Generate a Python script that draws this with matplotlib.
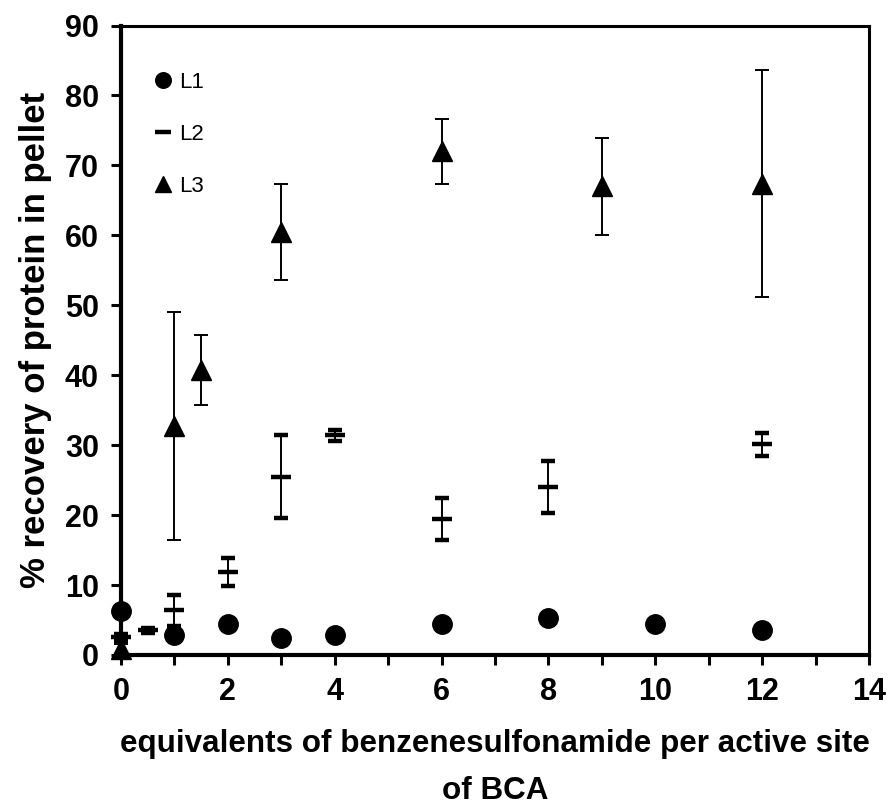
import matplotlib
matplotlib.use("Agg")
import matplotlib.pyplot as plt
from matplotlib.ticker import MultipleLocator

plt.rcParams['font.family'] = ['Liberation Sans', 'DejaVu Sans']

# L1 (circles)
l1_x = [0, 1, 2, 3, 4, 6, 8, 10, 12]
l1_y = [6.3, 2.9, 4.4, 2.4, 2.9, 4.4, 5.25, 4.4, 3.5]

# L2 (dashes with error bars)
l2_x = [0, 0.5, 1, 2, 3, 4, 6, 8, 12]
l2_y = [2.5, 3.5, 6.4, 11.8, 25.5, 31.4, 19.5, 24.0, 30.1]
l2_err = [0.5, 0.4, 2.2, 2.0, 5.9, 0.8, 3.0, 3.7, 1.7]

# L3 (triangles with error bars)
l3_x = [0, 1, 1.5, 3, 6, 9, 12]
l3_y = [0.8, 32.8, 40.8, 60.5, 72.0, 67.0, 67.4]
l3_err = [0.8, 16.3, 5.0, 6.9, 4.6, 6.9, 16.2]

labels = ['L1', 'L2', 'L3']

fig = plt.figure(figsize=(8.92, 8.10), dpi=100)
ax = fig.add_axes([0.1357, 0.1914, 0.8385, 0.7771])

h1, = ax.plot(l1_x, l1_y, linestyle='none', marker='o', ms=14, color='black',
              clip_on=False, zorder=4)
e2 = ax.errorbar(l2_x, l2_y, yerr=l2_err, fmt='_', ms=15, mew=3.2, color='black',
                 ecolor='black', elinewidth=1.4, capsize=5, capthick=1.4,
                 clip_on=False, zorder=3)
e3 = ax.errorbar(l3_x, l3_y, yerr=l3_err, fmt='^', ms=15, color='black',
                 ecolor='black', elinewidth=1.4, capsize=5, capthick=1.4,
                 clip_on=False, zorder=3)
for c in (e2, e3):
    for a in c.lines[1] + c.lines[2]:
        a.set_clip_on(False)

ax.set_xlim(0, 14)
ax.set_ylim(0, 90)
ax.xaxis.set_major_locator(MultipleLocator(2))
ax.xaxis.set_minor_locator(MultipleLocator(1))
ax.yaxis.set_major_locator(MultipleLocator(10))

for s in ['left', 'bottom']:
    ax.spines[s].set_linewidth(3)
for s in ['top', 'right']:
    ax.spines[s].set_linewidth(2.2)

ax.tick_params(axis='both', which='both', direction='out', length=7, width=2.2,
               top=False, right=False)
ax.tick_params(axis='both', which='major', labelsize=22, pad=9)
for t in ax.get_xticklabels() + ax.get_yticklabels():
    t.set_fontweight('bold')

ax.set_xlabel('equivalents of benzenesulfonamide per active site\nof BCA',
              fontsize=22.6, fontweight='bold', labelpad=16, linespacing=1.72)
ax.set_ylabel('% recovery of protein in pellet', fontsize=25, fontweight='bold',
              labelpad=9)

leg = ax.legend([h1, e2[0], e3[0]], labels, loc='upper left',
                bbox_to_anchor=(0.018, 0.958), frameon=False, fontsize=16,
                markerscale=0.8, handlelength=0.8, handletextpad=0.3,
                labelspacing=1.4)

fig.savefig('out.png', dpi=100)
